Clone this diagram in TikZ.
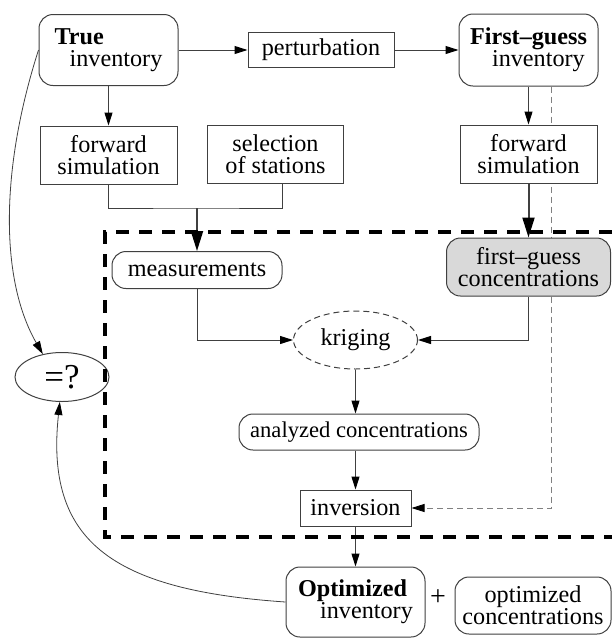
\documentclass[tikz,border=0pt]{standalone}
\usepackage{fontspec}
\setmainfont{Liberation Serif}
\usepackage{tikz}
\usetikzlibrary{arrows.meta,shapes.geometric,positioning,backgrounds}

\begin{document}
\begin{tikzpicture}[x=0.5pt,y=0.5pt,yscale=-1,
  font=\fontsize{12.1}{11.2}\selectfont,
  line width=0.5pt,
  process/.style={draw=black!75,fill=white,rectangle,align=center,inner sep=0pt},
  terminal/.style={process,rounded corners=7pt},
  arr/.style={draw=black!75,-{Triangle[length=6.5pt,width=4pt,color=black,fill=black]}},
  bigarr/.style={draw=black!75,line width=1pt,-{Triangle[length=10pt,width=6pt,color=black,fill=black]}},
  tapline/.style={draw=black!50,dash pattern=on 3pt off 2pt},
  frame/.style={line width=2pt,dash pattern=on 6.5pt off 5pt}]
\useasboundingbox (0,0) rectangle (612,638);

%Flowchart: Terminator
\node[terminal,minimum width=69.5pt,minimum height=35.5pt,align=left] (true) at (108.5,50) {\textbf{True}\\\hspace*{7.5pt}inventory};
%Flowchart: Process
\node[process,minimum width=73pt,minimum height=17.5pt] (pert) at (321,50) {perturbation};
%Flowchart: Terminator
\node[terminal,minimum width=69.5pt,minimum height=36pt,align=left] (fg) at (528.5,50) {\textbf{First--guess}\\\hspace*{11pt}inventory};
%Flowchart: Process
\node[process,minimum width=68.5pt,minimum height=29pt] (fwdtrue) at (108.5,155) {forward\\simulation};
%Flowchart: Process
\node[process,minimum width=68pt,minimum height=29pt] (select) at (275.5,154) {selection\\of stations};
%Flowchart: Process
\node[process,minimum width=68.5pt,minimum height=29pt] (fwdfg) at (528.5,154) {forward\\simulation};
%Flowchart: Terminator
\node[terminal,minimum width=85pt,minimum height=18.5pt] (meas) at (197,270) {measurements};
%Flowchart: Terminator
\node[terminal,fill=black!15,minimum width=82pt,minimum height=29pt] (fgc) at (528.5,267) {first--guess\\concentrations};
%Shape: Ellipse
\node[ellipse,draw=black!75,dash pattern=on 3pt off 2pt,fill=white,inner sep=0pt,minimum width=62pt,minimum height=29pt] (krig) at (355.5,340) {kriging};
%Shape: Ellipse
\node[ellipse,draw=black!75,inner sep=0pt,minimum width=47pt,minimum height=24.5pt,font=\fontsize{17.5}{20}\selectfont] (eq) at (62,377) {=?};
%Flowchart: Terminator
\node[terminal,minimum width=120pt,minimum height=18pt,font=\fontsize{11.3}{11}\selectfont] (ana) at (359,432) {analyzed concentrations};
%Flowchart: Process
\node[process,minimum width=55.5pt,minimum height=18pt] (inv) at (355.5,508) {inversion};
%Flowchart: Terminator
\node[terminal,minimum width=69.5pt,minimum height=35pt,align=left] (opt) at (355.5,602) {\textbf{Optimized}\\\hspace*{11pt}inventory};
% Text Node
\node[font=\fontsize{14}{14}\selectfont] (plus) at (438,598) {+};
%Flowchart: Terminator
\node[terminal,minimum width=78pt,minimum height=28.5pt] (optc) at (533,605.5) {optimized\\concentrations};

%Straight Lines
\draw[arr] (true) -- (pert);
\draw[arr] (pert) -- (fg);
\draw[arr] (true) -- (fwdtrue);
\draw[arr] (fg) -- (fwdfg);
\coordinate (join) at (197,208);
\draw[draw=black!75] (fwdtrue.south) |- (join) -| ([xshift=3.5pt]select.south);
\draw[bigarr] (join) -- (meas.north);
\draw[bigarr] (fwdfg) -- (fgc);
\draw[arr] (meas.south) |- (krig.west);
\draw[arr] (fgc.south) |- (krig.east);
\draw[arr] (krig.south) -- (krig.south |- ana.north);
\draw[arr] (inv.north |- ana.south) -- (inv.north);
\draw[arr] (inv.south) -- (inv.south |- opt.north);
\begin{scope}[on background layer]
\draw[tapline,-{Triangle[length=6.5pt,width=4pt,color=black,fill=black]}] ([xshift=-23.5pt]fg.south east) |- (inv.east);
\end{scope}

%Curve Lines
\draw[arr,line width=0.4pt] (true.west) .. controls (0,170) and (0,280) .. (eq.130);
\draw[arr,line width=0.4pt] (opt.west) .. controls (110,590) and (45,540) .. (eq.265);

%Dashed frame
\draw[frame] (612,232) -- (105,232) -- (105,537) -- (612,537);

\end{tikzpicture}
\end{document}
